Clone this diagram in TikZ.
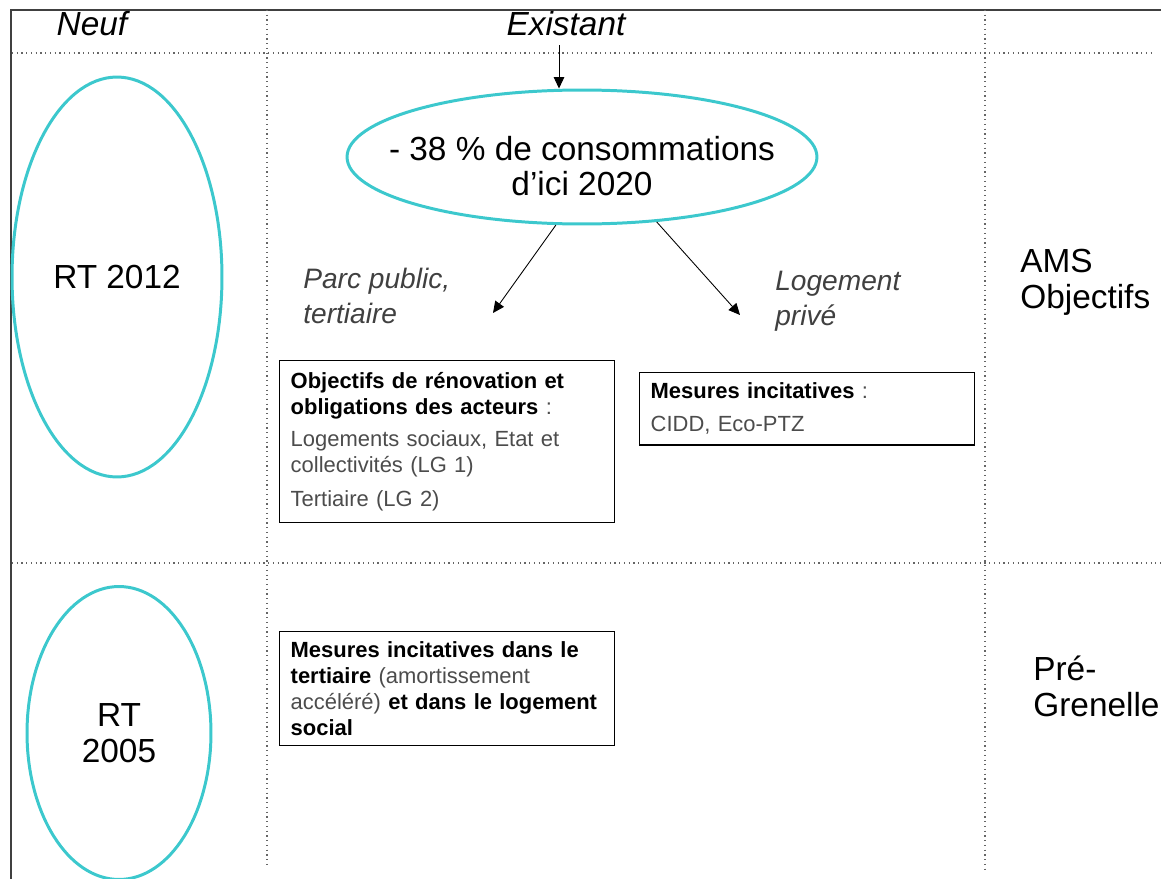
\documentclass[tikz,border=0pt]{standalone}
\usepackage{fontspec}
\setmainfont{Liberation Sans}
\usetikzlibrary{shapes.geometric, arrows.meta, positioning}
\definecolor{ovalcyan}{RGB}{60,200,205}
\tikzstyle{oval}=[ellipse, draw=ovalcyan, line width=1.7pt, inner sep=0pt, align=center, font=\fontsize{19}{20.4}\selectfont]
\tikzstyle{bigtext}=[inner sep=0pt, align=center, font=\fontsize{19}{20.4}\selectfont]
\tikzstyle{infobox}=[draw, line width=0.8pt, anchor=north west, minimum width=6.7cm, text width=6.26cm, inner xsep=0.22cm, align=left, font=\fontsize{12.5}{14.7}\selectfont]
\tikzstyle{divider}=[dotted, black!60, line width=0.7pt]
\tikzstyle{outline}=[line width=1.1pt, black!75]
\tikzstyle{colhead}=[anchor=base, inner sep=0pt, font=\fontsize{19}{20.4}\selectfont\itshape]
\tikzstyle{branch}=[anchor=base west, inner sep=0pt, align=left, text=black!75, font=\fontsize{16}{19.6}\selectfont\itshape]
\tikzstyle{rowhead}=[anchor=base west, inner sep=0pt, align=left, font=\fontsize{19}{20.4}\selectfont]
\tikzstyle{link}=[-{Triangle[length=6.5pt,width=6pt]}, line width=0.5pt]
\newcommand{\light}[1]{{\color{black!70}#1}}

\begin{document}
\begin{tikzpicture}[x=0.02cm, y=-0.02cm]
    \useasboundingbox (0,0) rectangle (1161,879);

    % Frame and grid
    \draw[outline] (11,879) -- (11,10) -- (1161,10);
    \draw[divider] (12,53) -- (1155,53);
    \draw[divider] (12,563) -- (1161,563);
    \draw[divider] (267,10) -- (267,865);
    \draw[divider] (985,10) -- (985,870);

    % Column heads
    \node[colhead] (neuf) at (92,35) {Neuf};
    \node[colhead] (existant) at (566,35) {Existant};

    % New buildings
    \node[oval, minimum width=4.2cm, minimum height=8cm] (rt12) at (117,277) {RT 2012};
    \node[oval, minimum width=3.68cm, minimum height=5.86cm] (rt05) at (119,733) {RT\\2005};

    % Existing buildings
    \node[oval, minimum width=9.4cm, minimum height=2.68cm] (target) at (582,157) {};
    \node[bigtext] (targetlbl) at (582,166) {- 38 \% de consommations\\d'ici 2020};
    \coordinate (exstart) at (559,45);
    \draw[link] (exstart) -- (exstart |- target.north);

    \node[branch] (public) at (303,323) {Parc public,\\tertiaire};
    \node[branch] (private) at (775,325) {Logement\\privé};
    \coordinate (pubend) at (493,313);
    \coordinate (privend) at (740,315);
    \draw[link] (target.249.5) -- (pubend);
    \draw[link] (target.319) -- (privend);

    \node[infobox, inner ysep=0.24cm] (oblig) at (279,360) {\textbf{Objectifs de rénovation et}\\
        \textbf{obligations des acteurs} \light{:}\\[3.4pt]
        \light{Logements sociaux, Etat et}\\
        \light{collectivités (LG 1)}\\[4.6pt]
        \light{Tertiaire (LG 2)}};
    \node[infobox, inner ysep=0.2cm] (incit) at (639,372) {\textbf{Mesures incitatives} \light{:}\\[4.3pt]
        \light{CIDD, Eco-PTZ}};
    \node[infobox, inner ysep=0.2cm] (pregren) at (279,631) {\textbf{Mesures incitatives dans le}\\
        \textbf{tertiaire} \light{(amortissement}\\
        \light{accéléré)} \textbf{et dans le logement}\\
        \textbf{social}};

    % Row heads
    \node[rowhead] (ams) at (1020,308) {AMS\\Objectifs};
    \node[rowhead] (pre) at (1033,716) {Pré-\\Grenelle};
\end{tikzpicture}
\end{document}
